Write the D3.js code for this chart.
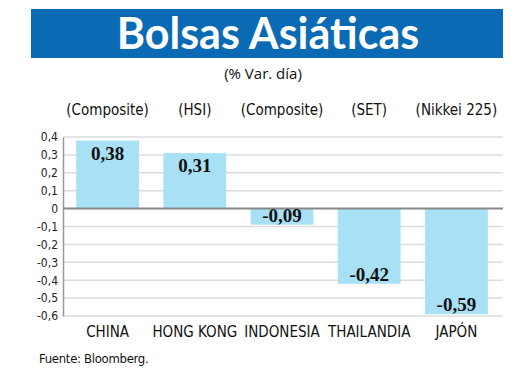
<!DOCTYPE html>
<html>
<head>
<meta charset="utf-8">
<script src="https://cdn.jsdelivr.net/npm/d3@7"></script>
<style>
  body { margin: 0; background: #fff; }
  svg { display: block; }
</style>
</head>
<body>
<script>
// datos
var paises = ['CHINA', 'HONG KONG', 'INDONESIA', 'THAILANDIA', 'JAPÓN'];
var indices = ['(Composite)', '(HSI)', '(Composite)', '(SET)', '(Nikkei 225)'];
var variacion = [0.38, 0.31, -0.09, -0.42, -0.59];
var ticks = [0.4, 0.3, 0.2, 0.1, 0, -0.1, -0.2, -0.3, -0.4, -0.5, -0.6];

var width = 520, height = 390;
var plotL = 63, plotR = 503, plotT = 137, plotB = 316;
var narrow = '"DejaVu Sans Condensed", "Liberation Sans Narrow", sans-serif';

var svg = d3.select('body').append('svg')
  .attr('width', width)
  .attr('height', height);

// banner
svg.append('rect')
  .attr('x', 31).attr('y', 9)
  .attr('width', 472).attr('height', 49)
  .attr('fill', '#0a6ab4');
svg.append('text')
  .attr('x', 268).attr('y', 49)
  .attr('text-anchor', 'middle')
  .attr('font-family', 'Lato, "Open Sans", sans-serif')
  .attr('font-weight', 'bold')
  .attr('font-size', 43)
  .attr('fill', '#fff')
  .text('Bolsas Asiáticas');
svg.append('text')
  .attr('x', 263).attr('y', 79)
  .attr('text-anchor', 'middle')
  .attr('font-family', '"Open Sans", sans-serif')
  .attr('font-size', 15)
  .attr('fill', '#111')
  .text('(% Var. día)');

var x = d3.scaleBand()
  .domain(paises)
  .range([64, 500])
  .paddingInner(0.28)
  .paddingOuter(0.14);

var y = d3.scaleLinear()
  .domain([-0.6, 0.4])
  .range([plotB, plotT]);

// coma decimal y guion normal
var coma = function(v, p) { return d3.format(p)(v).replace('.', ',').replace('\u2212', '-'); };

// rejilla
svg.append('g')
  .selectAll('line')
  .data(ticks.filter(function(d) { return d != 0; }))
  .enter().append('line')
    .attr('x1', plotL).attr('x2', plotR)
    .attr('y1', function(d) { return y(d); })
    .attr('y2', function(d) { return y(d); })
    .attr('stroke', '#dcdcdc')
    .attr('stroke-width', 1.5);

// eje y
var yAxis = svg.append('g')
  .attr('transform', 'translate(' + plotL + ',0)')
  .call(d3.axisLeft(y).tickValues(ticks).tickSize(0).tickPadding(5)
    .tickFormat(function(d) { return d == 0 ? '0' : coma(d, '.1f'); }));
yAxis.select('.domain').attr('stroke', '#999').attr('stroke-width', 1.5);
yAxis.selectAll('text')
  .attr('font-family', narrow)
  .attr('font-size', 12)
  .attr('fill', '#222');

// barras
svg.append('g')
  .selectAll('rect')
  .data(variacion)
  .enter().append('rect')
    .attr('x', function(d, i) { return x(paises[i]); })
    .attr('y', function(d) { return y(Math.max(0, d)); })
    .attr('width', x.bandwidth())
    .attr('height', function(d) { return Math.abs(y(d) - y(0)); })
    .attr('fill', '#a8e0f5');

// linea de cero
svg.append('line')
  .attr('x1', plotL).attr('x2', plotR)
  .attr('y1', y(0)).attr('y2', y(0))
  .attr('stroke', '#888')
  .attr('stroke-width', 2);

// valores
svg.append('g')
  .selectAll('text')
  .data(variacion)
  .enter().append('text')
    .attr('x', function(d, i) { return x(paises[i]) + x.bandwidth() / 2; })
    .attr('y', function(d) { return d > 0 ? y(d) + 19 : y(d) - 3; })
    .attr('text-anchor', 'middle')
    .attr('font-family', '"Liberation Serif", serif')
    .attr('font-weight', 'bold')
    .attr('font-size', 19)
    .attr('fill', '#111')
    .text(function(d) { return coma(d, '.2f'); });

// indices arriba
svg.append('g')
  .selectAll('text')
  .data(indices)
  .enter().append('text')
    .attr('x', function(d, i) { return x(paises[i]) + x.bandwidth() / 2; })
    .attr('y', 115)
    .attr('text-anchor', 'middle')
    .attr('font-family', narrow)
    .attr('font-size', 15)
    .attr('fill', '#111')
    .text(function(d) { return d; });

// paises abajo
svg.append('g')
  .selectAll('text')
  .data(paises)
  .enter().append('text')
    .attr('x', function(d) { return x(d) + x.bandwidth() / 2; })
    .attr('y', 337)
    .attr('text-anchor', 'middle')
    .attr('font-family', narrow)
    .attr('font-size', 15)
    .attr('fill', '#111')
    .text(function(d) { return d; });

svg.append('text')
  .attr('x', 39).attr('y', 363)
  .attr('font-family', narrow)
  .attr('font-size', 13)
  .attr('letter-spacing', -0.3)
  .attr('fill', '#111')
  .text('Fuente: Bloomberg.');
</script>
</body>
</html>
